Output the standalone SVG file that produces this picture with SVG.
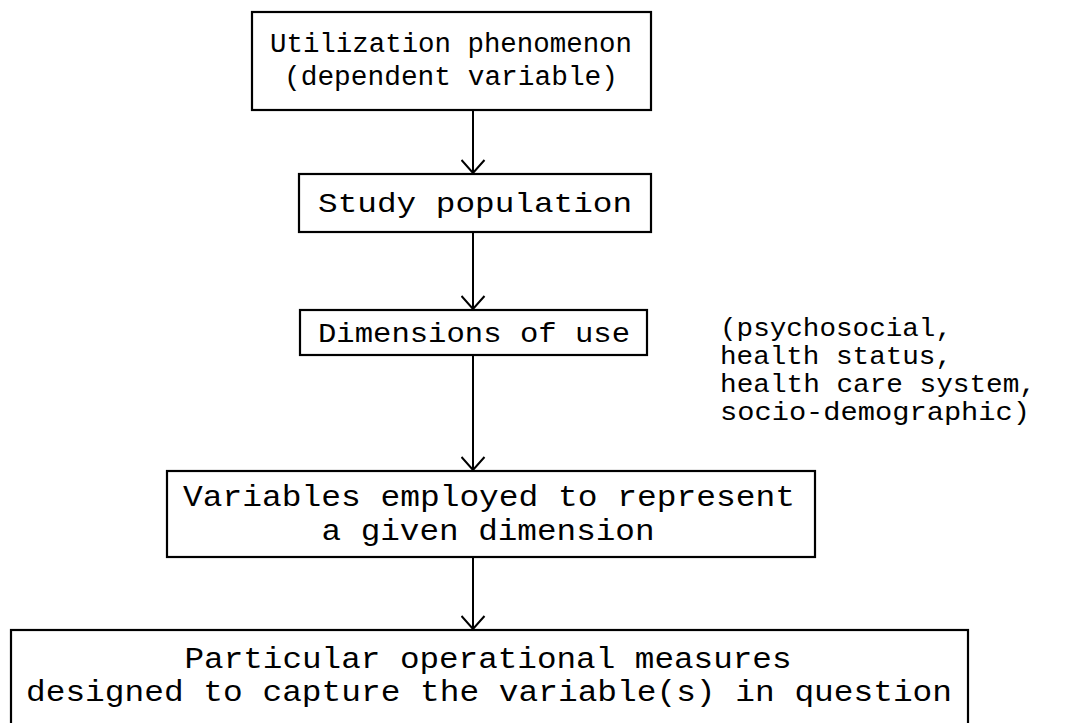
<svg xmlns="http://www.w3.org/2000/svg" width="1082" height="723" viewBox="0 0 1082 723">
  <defs>
    <!-- open V arrowhead; +x is the direction of travel -->
    <marker id="arrow" viewBox="-1 -1 15 25" refX="13" refY="11.5" markerWidth="15" markerHeight="25" markerUnits="userSpaceOnUse" orient="auto">
      <path d="M0,0 L13,11.5 L0,23" fill="none" stroke="#000" stroke-width="2"/>
    </marker>
    <style>
      .box { fill: #fff; stroke: #000; stroke-width: 2.2; }
      .lbl { font-family: "Liberation Mono", "DejaVu Sans Mono", monospace; fill: #000; }
      .mid { text-anchor: middle; }
      .edge { fill: none; stroke: #000; stroke-width: 2; }
    </style>
  </defs>
  <rect width="1082" height="723" fill="#fff"/>

  <g id="connectors">
    <line class="edge" x1="473" y1="110" x2="473" y2="173" marker-end="url(#arrow)"/>
    <line class="edge" x1="473" y1="232" x2="473" y2="309" marker-end="url(#arrow)"/>
    <line class="edge" x1="473" y1="355" x2="473" y2="470" marker-end="url(#arrow)"/>
    <line class="edge" x1="473" y1="557" x2="473" y2="629" marker-end="url(#arrow)"/>
  </g>

  <g id="node-utilization">
    <rect class="box" x="252" y="12" width="399" height="98"/>
    <text class="lbl mid" x="451" y="52" font-size="27" textLength="362" lengthAdjust="spacingAndGlyphs">Utilization phenomenon</text>
    <text class="lbl mid" x="451" y="85" font-size="27" textLength="334" lengthAdjust="spacingAndGlyphs">(dependent variable)</text>
  </g>

  <g id="node-population">
    <rect class="box" x="299" y="174" width="352" height="58"/>
    <text class="lbl mid" x="475" y="212" font-size="28" textLength="314" lengthAdjust="spacingAndGlyphs">Study population</text>
  </g>

  <g id="node-dimensions">
    <rect class="box" x="300" y="310" width="347" height="45"/>
    <text class="lbl mid" x="474" y="342" font-size="28" textLength="312" lengthAdjust="spacingAndGlyphs">Dimensions of use</text>
  </g>

  <g id="note-dimensions">
    <text class="lbl" x="720" y="336" font-size="25" textLength="232" lengthAdjust="spacingAndGlyphs">(psychosocial,</text>
    <text class="lbl" x="720" y="364" font-size="25" textLength="232" lengthAdjust="spacingAndGlyphs">health status,</text>
    <text class="lbl" x="720" y="392" font-size="25" textLength="316" lengthAdjust="spacingAndGlyphs">health care system,</text>
    <text class="lbl" x="720" y="420" font-size="25" textLength="310" lengthAdjust="spacingAndGlyphs">socio-demographic)</text>
  </g>

  <g id="node-variables">
    <rect class="box" x="167" y="471" width="648" height="86"/>
    <text class="lbl mid" x="489" y="506" font-size="29" textLength="612" lengthAdjust="spacingAndGlyphs">Variables employed to represent</text>
    <text class="lbl mid" x="488" y="540" font-size="29" textLength="333" lengthAdjust="spacingAndGlyphs">a given dimension</text>
  </g>

  <g id="node-measures">
    <rect class="box" x="11" y="630" width="957" height="100"/>
    <text class="lbl mid" x="488" y="668" font-size="29" textLength="607" lengthAdjust="spacingAndGlyphs">Particular operational measures</text>
    <text class="lbl mid" x="489" y="701" font-size="29" textLength="926" lengthAdjust="spacingAndGlyphs">designed to capture the variable(s) in question</text>
  </g>
</svg>
